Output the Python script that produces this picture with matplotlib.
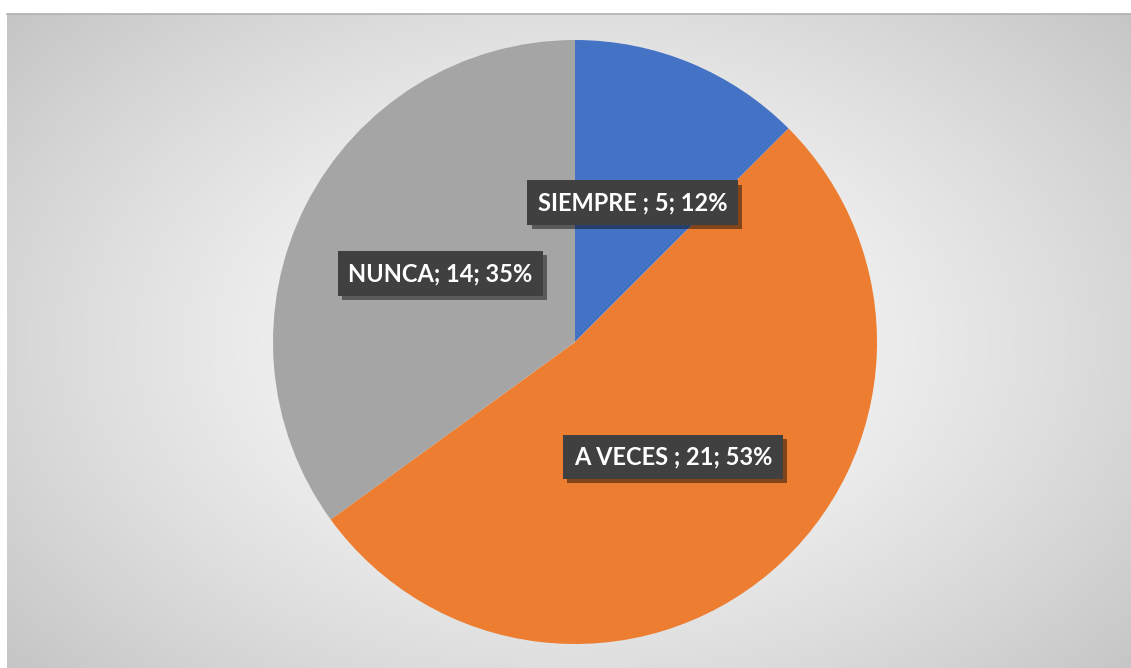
import numpy as np
import matplotlib.pyplot as plt
import matplotlib.patheffects as pe

# data
categories = ["SIEMPRE ", "A VECES ", "NUNCA"]
counts = [5, 21, 14]
percents = [12, 53, 35]
colors = ["#4472C4", "#ED7D31", "#A5A5A5"]

labels = [f"{c}; {n}; {p}%" for c, n, p in zip(categories, counts, percents)]

fig = plt.figure(figsize=(11.31, 6.68), dpi=100)
fig.patch.set_facecolor("white")

# background with radial gradient
bg = fig.add_axes([7 / 1131, 0, 1 - 7 / 1131, 1 - 14 / 668])
bg.set_axis_off()
h, w = 654, 1124
yy, xx = np.mgrid[0:h, 0:w]
cx, cy = 568, 328
r = np.sqrt(((xx - cx) / 620.0) ** 2 + ((yy - cy) / 420.0) ** 2)
r = np.clip(r, 0, 1.25) / 1.25
shade = 1.0 - 0.24 * r ** 1.3
bg.imshow(np.dstack([shade, shade, shade]), aspect="auto", extent=[0, 1, 0, 1])
bg.set_xlim(0, 1)
bg.set_ylim(0, 1)
bg.plot([0, 1], [1, 1], color="#b0b0b0", lw=1.2, transform=bg.transAxes, clip_on=False)

# pie
ax = fig.add_axes([(575 - 302) / 1131, (668 - 342 - 302) / 668, 604 / 1131, 604 / 668])
wedges, texts = ax.pie(counts, colors=colors, startangle=90, counterclock=False,
                       labels=labels, labeldistance=0.5,
                       wedgeprops=dict(linewidth=0))
ax.set_xlim(-1, 1)
ax.set_ylim(-1, 1)
ax.set_aspect("equal")

for t in texts:
    t.set_ha("center")
    t.set_va("center")
    t.set_color("white")
    t.set_fontsize(17)
    t.set_fontweight("bold")
    t.set_family(["Lato", "DejaVu Sans"])
    t.set_bbox(dict(boxstyle="square,pad=0.45", facecolor="#404040", edgecolor="none"))
    t.get_bbox_patch().set_path_effects([
        pe.withSimplePatchShadow(offset=(3, -3), shadow_rgbFace="black", alpha=0.45)])

fig.savefig("out.png", dpi=100)
